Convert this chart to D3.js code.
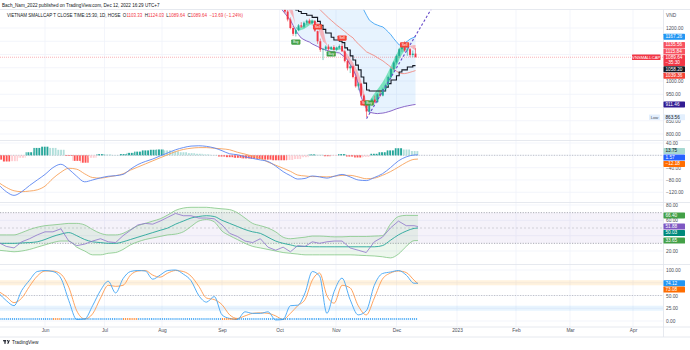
<!DOCTYPE html>
<html><head><meta charset="utf-8">
<script src="https://cdn.jsdelivr.net/npm/d3@7"></script>
<style>
html,body{margin:0;padding:0;background:#fff;}
svg{display:block;font-family:"Liberation Sans",Arial,sans-serif;}
</style></head><body>
<svg id="c" width="690" height="350"></svg>
<script>
// ---------------- DATA ----------------
const monthTicks = ["2022-06-01","2022-07-01","2022-08-01","2022-09-01","2022-10-01","2022-11-01","2022-12-01","2023-01-01","2023-02-01","2023-03-01","2023-04-01"];
const monthLabels = ["Jun","Jul","Aug","Sep","Oct","Nov","Dec","2023","Feb","Mar","Apr"];

const sampleDates = ["2022-05-08","2022-05-12","2022-05-16","2022-05-20","2022-05-24","2022-05-28",
"2022-06-01","2022-06-05","2022-06-09","2022-06-13","2022-06-17","2022-06-21","2022-06-25","2022-06-29",
"2022-07-03","2022-07-07","2022-07-11","2022-07-15","2022-07-19","2022-07-23","2022-07-27","2022-07-31",
"2022-08-04","2022-08-08","2022-08-12","2022-08-16","2022-08-20","2022-08-24","2022-08-28",
"2022-09-01","2022-09-05","2022-09-09","2022-09-13","2022-09-17","2022-09-21","2022-09-25","2022-09-29",
"2022-10-03","2022-10-07","2022-10-11","2022-10-15","2022-10-19","2022-10-23","2022-10-27","2022-10-31",
"2022-11-04","2022-11-08","2022-11-12","2022-11-16","2022-11-20","2022-11-24","2022-11-28",
"2022-12-02","2022-12-06","2022-12-10","2022-12-12"];

const macdLine = [-95,-118,-130,-118,-98,-80,-62,-40,-29,-45,-68,-86,-80,-73,-68,-66,-62,-45,-30,-20,-12,-2,8,18,25,30,31,29,24,15,5,2,-5,-10,-15,-20,-35,-53,-66,-77,-75,-67,-70,-74,-68,-62,-70,-80,-82,-72,-60,-40,-18,-5,1,1.57];
const signalLine = [-88,-104,-115,-118,-116,-112,-100,-75,-55,-42,-45,-60,-72,-74,-70,-66,-60,-48,-38,-28,-18,-8,2,12,19,23,25,25,23,21,18,10,4,-3,-10,-22,-32,-42,-52,-64,-67,-69,-69,-70,-68,-65,-65,-70,-76,-74,-65,-53,-38,-23,-13,-12.18];
const macdHist = [-14,-20,-19,-8,10,24,28,24,18,-2,-18,-24,-8,4,3,1,4,8,12,16,18,19,16,13,10,7,5,3,1,-4,-6,-8,-10,-11,-12,-14,-16,-16,-15,-12,-6,3,2,-3,-2,4,-4,-7,-5,5,10,16,23,19,14,13.75];

const rsi = [31,26,24,32,36,41,45,45,49,33,27,29,33,36,32,31,40,47,54,56,55,59,64,69,66,66,63,63,62,54,43,39,33,31,36,25,21,25,19,27,26,32,30,32,33,33,24,21,18,32,38,50,59,53,53,51.88];
const rsiMA = [30,30,30,30.5,31,32,35,39,42,44,40,35,32,31,30,30,32,35,38,41,44,47,50,55,59,63,65,66,65,60,56,52,48,45,43,38,33,30,28,26,26,25.5,25.5,25.5,25.5,25.5,25.5,25.5,25.5,25.5,27,34,41,46,49.5,50.03];
const rsiUpper = [41,41,41,44,48,51,53,54,55,56,56,54,48,43,41,41,43,48,53,56,59,62,67,73,76,77,77,77,76,75,74,70,63,56,53,50,45,38,36,37,38,39.5,39.5,39,38.5,38.5,39,39,39,39.5,40,55,65,66.5,66.4,66.4];
const rsiLower = [21,20,19,20,22,25,28,31,33,33,25,20,15,15,17,18,22,28,32,35,37,39,41,42,45,52,59,61,58,46,40,35,30,26,24,22,20,18,17,16,15,15,15,15,15,15,15,14.5,14,13.5,12.5,11,16,26,33.5,33.65];

const stochK = [55,40,30,60,80,97,99,97,84,40,3,4,30,60,78,55,83,97,99,98,82,90,99,100,92,79,50,37,48,12,5,3,18,15,15,18,2,3,30,31,55,97,88,15,58,84,42,12,20,70,93,96,99,90,74,74.12];
const stochD = [58,48,36,45,68,88,98,98,92,66,20,4,14,45,70,68,70,90,98,99,90,86,94,99,97,88,68,45,42,32,12,5,10,15,16,15,10,3,15,30,42,80,94,50,35,70,65,30,12,45,82,94,98,95,80,73.08];
const squeezeOn = [0,0,0,0,0,0,0,1,0,0,0,0,0,0,0,0,1,1,0,0,0,0,0,0,0,0,0,0,0,1,1,0,0,0,0,0,0,0,0,0,0,0,0,0,0,0,0,0,0,0,0,0,0,0,0,0];
const squeezeLevel = 4;

const candleDates = ["2022-10-03","2022-10-04","2022-10-05","2022-10-06","2022-10-07","2022-10-10","2022-10-11","2022-10-12","2022-10-13","2022-10-14","2022-10-17","2022-10-18","2022-10-19","2022-10-20","2022-10-21","2022-10-24","2022-10-25","2022-10-26","2022-10-27","2022-10-28","2022-10-31",
"2022-11-01","2022-11-02","2022-11-03","2022-11-04","2022-11-07","2022-11-08","2022-11-09","2022-11-10","2022-11-11","2022-11-14","2022-11-15","2022-11-16","2022-11-17","2022-11-18","2022-11-21","2022-11-22","2022-11-23","2022-11-24","2022-11-25","2022-11-28","2022-11-29","2022-11-30",
"2022-12-01","2022-12-02","2022-12-05","2022-12-06","2022-12-07","2022-12-08","2022-12-09","2022-12-12"];
const opens  = [1345,1310,1285,1262,1232,1200,1178,1192,1210,1205,1220,1228,1218,1226,1188,1150,1118,1120,1130,1120,1128,1118,1126,1132,1112,1075,1048,1055,1015,980,990,945,910,885,915,930,920,950,945,970,985,1015,1045,1070,1095,1120,1138,1115,1120,1098,1103.33];
const highs  = [1350,1318,1290,1268,1240,1208,1198,1215,1222,1225,1232,1235,1232,1230,1190,1160,1125,1135,1138,1132,1135,1130,1138,1140,1118,1080,1060,1058,1020,995,992,950,915,920,935,945,955,965,975,990,1020,1050,1075,1100,1125,1145,1150,1128,1125,1115,1124.03];
const lows   = [1305,1280,1255,1225,1195,1170,1168,1188,1200,1200,1212,1215,1210,1185,1140,1110,1079,1112,1115,1117,1115,1112,1120,1110,1070,1040,1030,1010,975,965,940,905,863.56,880,905,915,918,940,942,962,980,1010,1040,1062,1088,1110,1110,1095,1090,1090,1089.64];
const closes = [1310,1285,1262,1232,1200,1178,1192,1210,1205,1220,1228,1218,1226,1190,1150,1118,1120,1130,1120,1128,1118,1126,1132,1112,1075,1048,1055,1015,980,990,945,910,885,915,930,920,950,945,970,985,1015,1045,1070,1095,1120,1138,1115,1120,1098,1103.33,1089.64];

const trendStop = [1330,1320,1310,1300,1290,1280,1268,1262,1255,1255,1248,1248,1240,1240,1225,1210,1195,1181,1181,1165,1155,1155,1150,1145,1125,1117,1095,1079,1060,1042,1015,992,966,962,962,962,962,962,962,977,990,1004,1004,1020,1034,1042,1042,1053,1053,1058.2,1058.2];
const fastMA = [1340,1322,1300,1280,1258,1240,1205,1200,1205,1212,1222,1228,1230,1226,1205,1175,1150,1140,1128,1124,1125,1126,1128,1118,1098,1075,1058,1038,1010,992,968,935,912,925,940,955,968,982,997,1015,1035,1058,1080,1100,1122,1140,1143,1138,1130,1122,1115.84];
const slowMA = [1360,1345,1330,1312,1292,1262,1200,1190,1192,1196,1203,1210,1216,1222,1222,1212,1195,1150,1125,1118,1116,1117,1118,1120,1112,1100,1085,1070,1050,1030,1000,960,915,908,914,922,932,944,958,972,990,1010,1032,1055,1080,1100,1115,1126,1132,1135,1135.56];
const bandUpper = [1520,1515,1510,1505,1500,1495,1490,1485,1478,1470,1462,1455,1448,1440,1432,1425,1418,1410,1402,1395,1388,1380,1372,1365,1358,1350,1342,1335,1325,1315,1300,1268,1248,1230,1222,1215,1211,1207,1204,1195,1185,1174,1160,1148,1136,1138,1143,1150,1158,1163,1167.26];
const bandBasis = [1390,1385,1378,1370,1362,1352,1342,1332,1322,1313,1305,1298,1290,1283,1276,1268,1258,1248,1238,1229,1220,1211,1203,1195,1187,1178,1170,1163,1150,1140,1130,1120,1110,1105,1100,1095,1088,1082,1076,1068,1060,1052,1044,1037,1031,1028,1028,1030,1033,1036,1039.36];
const bandLower = [1285,1268,1255,1242,1230,1210,1190,1175,1162,1156,1151,1147,1140,1135,1130,1125,1120,1117,1114,1111,1109,1107,1106,1098,1090,1079,1062,1045,1023,985,940,915,895,883,880,878,877,878,879,881,884,887,891,895,898,901,904,906,908,910,911.46];

const trendLine = [{bar:32, price:858},{bar:58, price:1310}];
const signals = [
  {bar:6, kind:"Buy", price:1147},
  {bar:14, kind:"Sell", price:1204},
  {bar:19, kind:"Buy", price:1102},
  {bar:23, kind:"Sell", price:1162},
  {bar:31.4, kind:"Sell", price:917},
  {bar:33, kind:"Buy", price:917},
  {bar:46, kind:"Sell", price:1136}
];
const priceGrid = [800,850,900,950,1000,1050,1100,1150,1200];
const priceTickLabels = [800,850,950,1000,1200];
const macdGrid = [40,0,-40,-80,-120];
const macdTickLabels = [40,-40,-80,-120];
const rsiGrid = [80,60,40,20];
const rsiTickLabels = [80,60,20];
const stochGrid = [100,75,50,25,0];
const stochTickLabels = [100,50,25,0];
const lastPrice = 1089.64;
const lowPrice = 863.56;

// ---------------- LAYOUT ----------------
const PR = 663;
const P = {main:[9.5,140.5], macd:[140.5,202.5], rsi:[202.5,264.5], sto:[264.5,327]};
const svg = d3.select("#c");
const parseD = d3.timeParse("%Y-%m-%d");
const x = d3.scaleTime()
  .domain(["2022-05-01","2022-06-01","2022-07-01","2022-08-01","2022-09-01","2022-10-01","2022-11-01","2022-12-01","2023-01-01","2023-02-01","2023-03-01","2023-04-01","2023-05-01"].map(parseD))
  .range([-15,45,104.5,162,222,279.5,336,396.5,457,516,570,633,693]);
const sd = sampleDates.map(parseD);
const xs = i => x(sd[i]);
const xc = d3.scaleLinear().domain([0,50]).range([279.5,415.5]);

const yMain = d3.scaleLinear().domain([800,1200]).range([134,28]);
const yMacd = d3.scaleLinear().domain([-120,40]).range([192.3,143]);
const yRsi = d3.scaleLinear().domain([20,80]).range([251,205]);
const ySto = d3.scaleLinear().domain([0,100]).range([321,270]);

const defs = svg.append("defs");
Object.entries(P).forEach(([k,[t,b]])=>{
  defs.append("clipPath").attr("id","clip-"+k).append("rect").attr("x",0).attr("y",t).attr("width",PR).attr("height",b-t);
});
// striped patterns for histogram bars (TradingView thin columns)
const histColors = {hp:"#26a69a", lp:"#b2dfdb", hn:"#ff5252", ln:"#ffcdd2"};
Object.entries(histColors).forEach(([k,c])=>{
  const p = defs.append("pattern").attr("id","pat-"+k).attr("patternUnits","userSpaceOnUse")
    .attr("width",2.72).attr("height",10).attr("x",0.3);
  p.append("rect").attr("x",0).attr("y",0).attr("width",1.9).attr("height",10).attr("fill",c);
});

// grid
const grid = svg.append("g").attr("stroke","#f0f3fa").attr("stroke-width",0.8);
monthTicks.map(parseD).forEach(d=>{
  grid.append("line").attr("x1",x(d)).attr("x2",x(d)).attr("y1",P.main[0]).attr("y2",P.sto[1]);
});
function hgrid(ticks,y){ ticks.forEach(v=>grid.append("line").attr("x1",0).attr("x2",PR).attr("y1",y(v)).attr("y2",y(v))); }
hgrid(priceGrid,yMain); hgrid(macdGrid,yMacd); hgrid(rsiGrid,yRsi); hgrid(stochGrid,ySto);

// ---------------- MAIN PANE ----------------
const gm = svg.append("g").attr("clip-path","url(#clip-main)");
gm.append("path").datum(bandUpper)
  .attr("d", d3.area().x((d,i)=>xc(i)).y0((d,i)=>yMain(bandLower[i])).y1(d=>yMain(d)))
  .attr("fill","#2196f3").attr("fill-opacity",0.11);
const rib = gm.append("g");
for(let i=0;i<fastMA.length-1;i++){
  const a0=fastMA[i],b0=slowMA[i],a1=fastMA[i+1],b1=slowMA[i+1];
  const d0=a0-b0,d1=a1-b1;
  const col = v => v>=0 ? "#5ddcab" : "#f7a0a7";
  const poly = (pts,c)=>rib.append("path").attr("d","M"+pts.map(p=>xc(p[0])+","+yMain(p[1])).join("L")+"Z").attr("fill",c).attr("fill-opacity",0.8);
  if(d0*d1>=0){ poly([[i,a0],[i+1,a1],[i+1,b1],[i,b0]], col(d0+d1)); }
  else { const t=d0/(d0-d1), xm=i+t, ym=a0+t*(a1-a0);
    poly([[i,a0],[xm,ym],[i,b0]], col(d0)); poly([[xm,ym],[i+1,a1],[i+1,b1]], col(d1)); }
}
const lc = arr => d3.line().x((d,i)=>xc(i)).y(d=>yMain(d))(arr);
gm.append("path").attr("d",lc(bandUpper)).attr("fill","none").attr("stroke","#42a5f5").attr("stroke-width",0.9);
gm.append("path").attr("d",lc(bandLower)).attr("fill","none").attr("stroke","#7e57c2").attr("stroke-width",0.9);
gm.append("path").attr("d",lc(bandBasis)).attr("fill","none").attr("stroke","#f28b82").attr("stroke-width",0.9);
gm.append("line").attr("x1",0).attr("x2",PR).attr("y1",yMain(lastPrice)).attr("y2",yMain(lastPrice))
  .attr("stroke","#f23645").attr("stroke-opacity",0.55).attr("stroke-width",0.7).attr("stroke-dasharray","1,1");
gm.append("path").attr("d",d3.line().x((d,i)=>xc(i)).y(d=>yMain(d)).curve(d3.curveStepAfter)(trendStop))
  .attr("fill","none").attr("stroke","#131722").attr("stroke-width",1.1);
const cg = gm.append("g");
closes.forEach((c,i)=>{
  const o=opens[i], up=c>=o, col=up?"#22ab94":"#f23645";
  cg.append("line").attr("x1",xc(i)).attr("x2",xc(i)).attr("y1",yMain(highs[i])).attr("y2",yMain(lows[i])).attr("stroke",col).attr("stroke-width",0.6);
  const y0=yMain(Math.max(o,c)), y1=yMain(Math.min(o,c));
  cg.append("rect").attr("x",xc(i)-0.95).attr("width",1.9).attr("y",y0).attr("height",Math.max(0.6,y1-y0)).attr("fill",col);
});
gm.append("line").attr("x1",xc(trendLine[0].bar)).attr("y1",yMain(trendLine[0].price))
  .attr("x2",xc(trendLine[1].bar)).attr("y2",yMain(trendLine[1].price))
  .attr("stroke","#6a4fc9").attr("stroke-width",1.1).attr("stroke-dasharray","2.5,2");
signals.forEach(s=>{
  const cx=xc(s.bar), cy=yMain(s.price), buy=s.kind==="Buy";
  gm.append("rect").attr("x",cx-4.6).attr("y",cy-2.6).attr("width",9.2).attr("height",5.2).attr("rx",0.8)
    .attr("fill",buy?"#43a047":"#f44336");
  gm.append("text").attr("x",cx).attr("y",cy+1.3).attr("text-anchor","middle").attr("font-size",3.4)
    .attr("fill","#fff").text(s.kind);
});

// ---------------- MACD ----------------
const gM = svg.append("g").attr("clip-path","url(#clip-macd)");
gM.append("line").attr("x1",0).attr("x2",PR).attr("y1",yMacd(0)).attr("y2",yMacd(0))
  .attr("stroke","#b2b5be").attr("stroke-width",0.8).attr("stroke-dasharray","1.2,1.4");
macdHist.forEach((v,i)=>{
  const prev = i>0?macdHist[i-1]:v;
  const key = v>=0 ? (v>=prev?"hp":"lp") : (v<=prev?"hn":"ln");
  const xl = i>0 ? (xs(i-1)+xs(i))/2 : xs(i)-3.9;
  const xr = i<macdHist.length-1 ? (xs(i)+xs(i+1))/2 : xs(i)+1;
  gM.append("rect").attr("x",xl).attr("width",xr-xl)
    .attr("y",Math.min(yMacd(v),yMacd(0))).attr("height",Math.abs(yMacd(v)-yMacd(0))).attr("fill","url(#pat-"+key+")");
});
const ls = (y)=>d3.line().x((d,i)=>xs(i)).y(d=>y(d)).curve(d3.curveMonotoneX);
gM.append("path").attr("d",ls(yMacd)(signalLine)).attr("fill","none").attr("stroke","#f7a25a").attr("stroke-width",0.9);
gM.append("path").attr("d",ls(yMacd)(macdLine)).attr("fill","none").attr("stroke","#5b86f0").attr("stroke-width",0.9);

// ---------------- RSI ----------------
const gR = svg.append("g").attr("clip-path","url(#clip-rsi)");
gR.append("rect").attr("x",0).attr("width",PR).attr("y",yRsi(70)).attr("height",yRsi(30)-yRsi(70)).attr("fill","#7e57c2").attr("fill-opacity",0.08);
[70,30].forEach(v=>gR.append("line").attr("x1",0).attr("x2",PR).attr("y1",yRsi(v)).attr("y2",yRsi(v)).attr("stroke","#9598a1").attr("stroke-width",0.8).attr("stroke-dasharray","1.2,1.4"));
gR.append("line").attr("x1",0).attr("x2",PR).attr("y1",yRsi(50)).attr("y2",yRsi(50)).attr("stroke","#b8bac2").attr("stroke-width",0.6).attr("stroke-dasharray","2,2");
gR.append("path").datum(rsiUpper)
  .attr("d",d3.area().x((d,i)=>xs(i)).y0((d,i)=>yRsi(rsiLower[i])).y1(d=>yRsi(d)).curve(d3.curveMonotoneX))
  .attr("fill","#4caf50").attr("fill-opacity",0.1);
gR.append("path").attr("d",ls(yRsi)(rsiUpper)).attr("fill","none").attr("stroke","#81c784").attr("stroke-width",0.8);
gR.append("path").attr("d",ls(yRsi)(rsiLower)).attr("fill","none").attr("stroke","#81c784").attr("stroke-width",0.8);
gR.append("path").attr("d",ls(yRsi)(rsiMA)).attr("fill","none").attr("stroke","#26a69a").attr("stroke-width",0.9);
gR.append("path").attr("d",d3.line().x((d,i)=>xs(i)).y(d=>yRsi(d))(rsi)).attr("fill","none").attr("stroke","#8e74cc").attr("stroke-width",0.8);

// ---------------- STOCH ----------------
const gS = svg.append("g").attr("clip-path","url(#clip-sto)");
gS.append("rect").attr("x",0).attr("width",PR).attr("y",ySto(80)).attr("height",ySto(70)-ySto(80)).attr("fill","#ff9800").attr("fill-opacity",0.13);
gS.append("rect").attr("x",0).attr("width",PR).attr("y",ySto(30)).attr("height",ySto(20)-ySto(30)).attr("fill","#2196f3").attr("fill-opacity",0.1);
gS.append("line").attr("x1",0).attr("x2",PR).attr("y1",ySto(50)).attr("y2",ySto(50)).attr("stroke","#b2b5be").attr("stroke-width",0.8).attr("stroke-dasharray","1.2,1.4");
gS.append("path").attr("d",ls(ySto)(stochD)).attr("fill","none").attr("stroke","#ff9a4d").attr("stroke-width",0.9);
gS.append("path").attr("d",ls(ySto)(stochK)).attr("fill","none").attr("stroke","#42a5f5").attr("stroke-width",0.9);
for(let i=0;i<squeezeOn.length-1;i++){
  gS.append("line").attr("x1",xs(i)).attr("x2",xs(i+1)).attr("y1",ySto(squeezeLevel)).attr("y2",ySto(squeezeLevel))
    .attr("stroke",squeezeOn[i]?"#ff6d00":"#2196f3").attr("stroke-width",1.4).attr("stroke-dasharray","1,0.9");
}

// ---------------- FRAME ----------------
const fr = svg.append("g").attr("stroke","#e0e3eb").attr("stroke-width",0.8);
[9.5,140.5,202.5,264.5,327,337].forEach(y=>fr.append("line").attr("x1",0).attr("x2",690).attr("y1",y).attr("y2",y));
fr.append("line").attr("x1",PR+0.5).attr("x2",PR+0.5).attr("y1",9.5).attr("y2",337);

function rightAxis(y,ticks){
  const g = svg.append("g").attr("transform",`translate(${PR},0)`)
    .call(d3.axisRight(y).tickValues(ticks).tickFormat(d3.format(".2f")).tickSize(0).tickPadding(3));
  g.select(".domain").remove();
  g.selectAll("text").attr("font-size",4.8).attr("fill","#4a4e59").attr("font-family","Liberation Sans, Arial, sans-serif");
}
rightAxis(yMain,priceTickLabels);
rightAxis(yMacd,macdTickLabels);
rightAxis(yRsi,rsiTickLabels);
rightAxis(ySto,stochTickLabels);
svg.append("text").attr("x",PR+3).attr("y",16.5).attr("font-size",4.8).attr("fill","#4a4e59").text("VND");

const xa = svg.append("g").attr("transform","translate(0,327)")
  .call(d3.axisBottom(x).tickValues(monthTicks.map(parseD)).tickFormat((d,i)=>monthLabels[i]).tickSize(0).tickPadding(2));
xa.select(".domain").remove();
xa.selectAll("text").attr("font-size",4.8).attr("fill","#4a4e59").attr("font-family","Liberation Sans, Arial, sans-serif");

function valueLabels(items,y){
  items.forEach(d=>{d.cy=y(d.v); d.h=d.h||6;});
  items.sort((a,b)=>a.cy-b.cy);
  let prev=-1e9;
  items.forEach(d=>{
    let top=d.cy-(d.off!=null?d.off:d.h/2); if(top<prev) top=prev; prev=top+d.h+0.4;
    svg.append("rect").attr("x",PR+0.5).attr("y",top).attr("width",21.5).attr("height",d.h).attr("rx",0.6).attr("fill",d.bg);
    svg.append("text").attr("x",PR+2.5).attr("y",top+4.4).attr("font-size",4.7).attr("fill",d.fg||"#fff").text(d.t||d3.format(".2f")(d.v));
    if(d.t2) svg.append("text").attr("x",PR+2.5).attr("y",top+9.6).attr("font-size",4.7).attr("fill",d.fg||"#fff").text(d.t2);
  });
}
valueLabels([
  {v:bandUpper[50],bg:"#2196f3"},
  {v:slowMA[50],bg:"#f7525f"},
  {v:fastMA[50],bg:"#f7525f"},
  {v:lastPrice,bg:"#f23645",h:11,off:3,t2:"−35:30"},
  {v:trendStop[50],bg:"#131722"},
  {v:bandBasis[50],bg:"#f44336"},
  {v:bandLower[50],bg:"#311b92"},
  {v:lowPrice,bg:"#e3effd",fg:"#131722"}
],yMain);
valueLabels([
  {v:macdHist[55],bg:"#a7d9d1",fg:"#131722"},
  {v:macdLine[55],bg:"#2962ff"},
  {v:signalLine[55],bg:"#ff6d00"}
],yMacd);
valueLabels([
  {v:rsiUpper[55],bg:"#43a047"},
  {v:rsi[55],bg:"#7e57c2"},
  {v:rsiMA[55],bg:"#00897b"},
  {v:rsiLower[55],bg:"#43a047"}
],yRsi);
valueLabels([
  {v:stochK[55],bg:"#2196f3"},
  {v:stochD[55],bg:"#ff6d00"}
],ySto);

const yl = yMain(lastPrice);
svg.append("rect").attr("x",632).attr("y",yl-2.8).attr("width",28.5).attr("height",5.6).attr("rx",0.6).attr("fill","#f23645");
svg.append("text").attr("x",646.2).attr("y",yl+1.5).attr("text-anchor","middle").attr("font-size",4.2).attr("fill","#fff").text("VNSMALLCAP");
const ylo = yMain(lowPrice);
svg.append("rect").attr("x",649).attr("y",ylo-2.6).attr("width",11).attr("height",5.4).attr("rx",0.6).attr("fill","#e3effd");
svg.append("text").attr("x",654.5).attr("y",ylo+1.4).attr("text-anchor","middle").attr("font-size",4.2).attr("fill","#4a4e59").text("Low");

svg.append("text").attr("x",2).attr("y",6.8).attr("font-size",4.6).attr("fill","#131722")
  .text("Bach_Nam_2022 published on TradingView.com, Dec 12, 2022 16:29 UTC+7");
const lg = svg.append("text").attr("x",7).attr("y",16.6).attr("font-size",4.5).attr("fill","#131722");
lg.append("tspan").text("VIETNAM SMALLCAP T CLOSE TIME:15:30, 1D, HOSE");
[["O","1103.33"],["H","1124.03"],["L","1089.64"],["C","1089.64"]].forEach(([k,v])=>{
  lg.append("tspan").attr("dx",2.4).text(k);
  lg.append("tspan").attr("fill","#f23645").text(v);
});
lg.append("tspan").attr("dx",2.4).attr("fill","#f23645").text("−13.69 (−1.24%)");

const lo = svg.append("g").attr("fill","#131722");
lo.append("rect").attr("x",3).attr("y",340.2).attr("width",3).attr("height",1.1);
lo.append("rect").attr("x",4.4).attr("y",340.2).attr("width",1.2).attr("height",3.6);
lo.append("circle").attr("cx",7.4).attr("cy",340.8).attr("r",0.7);
lo.append("path").attr("d","M7.2,343.8 L8.6,340.2 L9.9,340.2 L8.4,343.8Z");
svg.append("text").attr("x",12).attr("y",343.6).attr("font-size",4.8).attr("fill","#131722").text("TradingView");
</script>
</body></html>
